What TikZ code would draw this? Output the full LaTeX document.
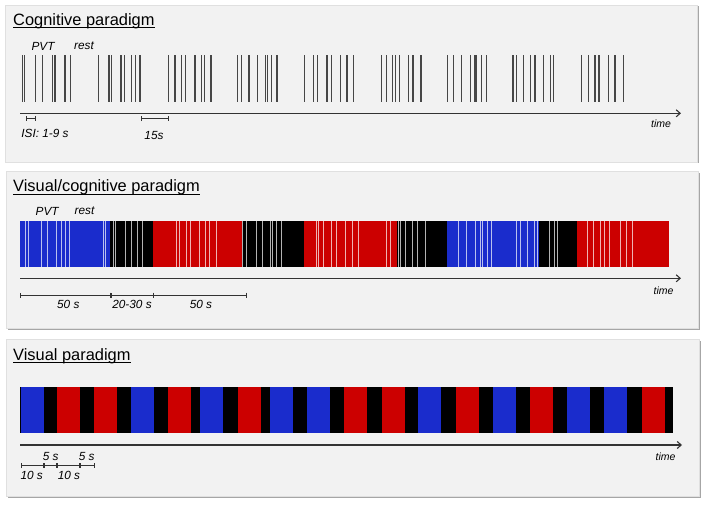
\documentclass[tikz,border=0pt]{standalone}
\usepackage{fontspec}
\setmainfont{Liberation Sans}
\usetikzlibrary{arrows.meta,shadows}
\definecolor{stimblue}{RGB}{26,44,204}
\definecolor{stimred}{RGB}{204,0,0}
\definecolor{panelgray}{RGB}{242,242,242}

\begin{document}
\begin{tikzpicture}[
  x=1pt, y=-1pt,
  panel/.style={draw=black!12, fill=panelgray, drop shadow={shadow xshift=1.5pt, shadow yshift=-1.5pt, opacity=0.35, fill=black}},
  paneltitle/.style={anchor=base west, inner sep=0pt, font=\fontsize{16.4}{19}\selectfont},
  lbl/.style={inner sep=0pt, font=\fontsize{11.8}{13}\selectfont\itshape},
  timelbl/.style={inner sep=0pt, font=\fontsize{10.5}{12}\selectfont\itshape},
  stimline/.style={draw=black!72, line width=1.5pt},
  flashline/.style={draw=white, draw opacity=0.7, line width=1pt},
  timeaxis/.style={-{Straight Barb[length=4pt,width=7pt]}, draw=black!80, line width=1.1pt},
  span/.style={{Bar[width=5pt]}-{Bar[width=5pt]}, draw=black!80, line width=0.7pt}
]
  \useasboundingbox[fill=white] (0,0) rectangle (709,505);

  % --- cognitive paradigm
  \filldraw[panel] (5,5) rectangle (697,162);
  \node[paneltitle] (cogtitle) at (13,25.5) {Cognitive paradigm};
  \draw[line width=0.9pt] ([yshift=-2.2pt]cogtitle.base west) -- ([yshift=-2.2pt]cogtitle.base east);
  \node[lbl] (cogpvt) at (43,46.5) {PVT};
  \node[lbl] (cogrest) at (84,46) {rest};
  \foreach \x in {22.3,24.3,35.7,42.3,52.3,55,65,70.3,
                  98.3,109,111.7,121,124.3,131.7,135.7,140,
                  168.3,175,181.7,185.7,195,201.7,204.3,211,
                  237.7,241.7,249,257.7,265.7,267.7,271.7,277,
                  304.3,313.7,317.7,327,331.7,340.3,347,353.7,
                  381.7,386.3,392.3,395.7,399.7,408.3,413,421,
                  447.7,453.7,461.7,470.3,475,476.3,481.7,486.7,
                  513,516.3,523.7,530.3,535,543.7,550.3,553.7,
                  581.7,588.3,595,599,608.3,615,623.7}
    \draw[stimline] (\x,55.5) -- (\x,101.7);
  \coordinate (cogax0) at (20,113.3);
  \coordinate (cogax1) at (681,113.3);
  \draw[timeaxis] (cogax0) -- (cogax1);
  \node[timelbl] (cogtime) at (661,124) {time};
  \coordinate (isi0) at (26,118.5);
  \coordinate (isi1) at (36,118.5);
  \draw[span] (isi0) -- (isi1);
  \node[lbl] (isilbl) at (45,133.3) {ISI: 1-9 s};
  \coordinate (rst0) at (141,118.7);
  \coordinate (rst1) at (169,118.7);
  \draw[span] (rst0) -- (rst1);
  \node[lbl] (rstlbl) at (154,135) {15s};

  % --- visual/cognitive paradigm
  \filldraw[panel] (6,171.5) rectangle (698,328.5);
  \node[paneltitle] (vctitle) at (13,192) {Visual/cognitive paradigm};
  \draw[line width=0.9pt] ([yshift=-2.2pt]vctitle.base west) -- ([yshift=-2.2pt]vctitle.base east);
  \node[lbl] (vcpvt) at (47.2,211) {PVT};
  \node[lbl] (vcrest) at (84.5,210.5) {rest};
  \foreach \a/\b/\c in {20/110.3/stimblue, 110.3/153.3/black, 153.3/241.7/stimred,
                        241.7/304/black, 304/396.7/stimred, 396.7/446.7/black,
                        446.7/539.3/stimblue, 539.3/576.7/black, 576.7/669.3/stimred}
    \fill[\c] (\a,221) rectangle (\b,266.5);
  \foreach \x in {25,28.3,41,47.7,56.7,61,65,69,103.3,105.7,
                  113.7,115.7,125.7,131.7,137.7,142.3,
                  176.7,179,186.7,190,199,205.7,209,216.7,
                  242.7,246,256,262.7,270,272,276,281.7,
                  316,318.7,323.3,331.7,336.7,345.3,352,358.3,386.7,390,
                  398.3,400.7,405.3,412,417.3,425.7,
                  458.3,466,475,480,482.7,487.3,491.3,516.7,520.7,527.3,534,537.3,
                  549.3,554,557.3,
                  587.3,593.3,600.7,604,609.3,620.7,626.7,632}
    \draw[flashline] (\x,221) -- (\x,266.5);
  \coordinate (vcax0) at (20,278.3);
  \coordinate (vcax1) at (681,278.3);
  \draw[timeaxis] (vcax0) -- (vcax1);
  \node[timelbl] (vctime) at (663.5,290.3) {time};
  \coordinate (vc0) at (20,295);
  \coordinate (vc1) at (110.7,295);
  \coordinate (vc2) at (153.3,295);
  \coordinate (vc3) at (246.7,295);
  \draw[span] (vc0) -- (vc1);
  \draw[span] (vc1) -- (vc2);
  \draw[span] (vc2) -- (vc3);
  \node[lbl] (vclbla) at (68.3,304.3) {50 s};
  \node[lbl] (vclblb) at (132,304.3) {20-30 s};
  \node[lbl] (vclblc) at (201,304.3) {50 s};

  % --- visual paradigm
  \filldraw[panel] (6.5,339) rectangle (699,496.5);
  \node[paneltitle] (vistitle) at (13,360) {Visual paradigm};
  \draw[line width=0.9pt] ([yshift=-2.2pt]vistitle.base west) -- ([yshift=-2.2pt]vistitle.base east);
  \fill[black] (20,387) rectangle (673,433);
  \foreach \s/\c in {20.7/stimblue, 56.7/stimred, 94.3/stimred, 131/stimblue,
                     168.3/stimred, 200/stimblue, 237.7/stimred, 270/stimblue,
                     307/stimblue, 344.3/stimred, 381.7/stimred, 418.3/stimblue,
                     456/stimred, 492.7/stimblue, 530/stimred, 567.3/stimblue,
                     604.3/stimblue, 641.7/stimred}
    \fill[\c] (\s,387) rectangle ++(23,46);
  \coordinate (visax0) at (20,445);
  \coordinate (visax1) at (682,445);
  \draw[timeaxis] (visax0) -- (visax1);
  \node[timelbl] (vistime) at (665.5,456.7) {time};
  \coordinate (vs0) at (20.7,465.7);
  \coordinate (vs1) at (44,465.7);
  \coordinate (vs2) at (56.7,465.7);
  \coordinate (vs3) at (80,465.7);
  \coordinate (vs4) at (94.3,465.7);
  \draw[span] (vs0) -- (vs1);
  \draw[span] (vs1) -- (vs2);
  \draw[span] (vs2) -- (vs3);
  \draw[span] (vs3) -- (vs4);
  \node[lbl] (vislbla) at (50.7,456) {5 s};
  \node[lbl] (vislblb) at (86.7,456) {5 s};
  \node[lbl] (vislblc) at (31.7,475) {10 s};
  \node[lbl] (vislbld) at (69,475) {10 s};
\end{tikzpicture}
\end{document}
